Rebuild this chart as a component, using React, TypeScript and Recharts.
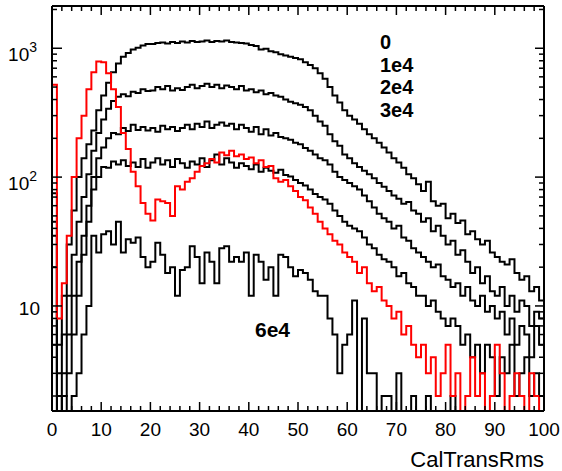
import { LineChart, Line, XAxis, YAxis } from "recharts";

// bin contents, one value per unit bin from 0 to 100 (0 = empty bin)
const run0 = [
  75, 5, 12, 30, 55, 100, 140, 180, 230, 330,
  430, 540, 650, 760, 860, 920, 980, 1010, 1050, 1080,
  1080, 1100, 1110, 1090, 1120, 1100, 1130, 1110, 1140, 1120,
  1130, 1150, 1120, 1140, 1130, 1150, 1120, 1110, 1100, 1090,
  1060, 1040, 980, 990, 950, 930, 900, 880, 860, 840,
  820, 780, 740, 700, 640, 580, 500, 430, 380, 330,
  300, 280, 260, 235, 215, 200, 185, 170, 155, 140,
  130, 118, 105, 98, 88, 78, 92, 65, 60, 62,
  48, 52, 44, 46, 36, 38, 33, 30, 32, 26,
  24, 22, 21, 23, 18, 16, 17, 13, 14, 11,
];
const run1e4 = [
  45, 3, 6, 12, 25, 45, 70, 105, 160, 220,
  280, 340, 390, 420, 440, 425, 460, 450, 480, 465,
  470, 500, 480, 510, 470, 490, 475, 500, 520, 490,
  510, 530, 500, 520, 490, 515, 500, 480, 510, 470,
  480, 455, 470, 440, 450, 430, 420, 400, 385, 375,
  365, 350, 330, 300, 270, 250, 215, 190, 175, 150,
  140, 128, 120, 112, 105, 98, 90, 84, 78, 72,
  68, 62, 64, 55, 52, 45, 48, 38, 42, 35,
  30, 32, 25, 27, 22, 18, 20, 15, 17, 13,
  12, 14, 10, 12, 9, 11, 10, 7, 9, 8,
];
const run2e4 = [
  35, 2, 3, 6, 12, 22, 35, 60, 100, 140,
  170, 200, 220, 215, 240, 228, 255, 232, 245, 230,
  240, 225, 250, 235, 245, 228, 240, 255, 235, 260,
  245, 270, 240, 255, 265, 250, 260, 235, 255, 240,
  225, 245, 215, 235, 210, 220, 205, 200, 195, 185,
  180, 168, 160, 150, 140, 135, 125, 110, 100, 95,
  90, 85, 80, 72, 65, 58, 52, 48, 45, 40,
  42, 34, 32, 28, 26, 24, 22, 20, 21, 17,
  16, 14, 15, 12, 14, 11, 10, 12, 9, 10,
  8, 9, 6, 8, 5, 7, 6, 4, 7, 5,
];
const run3e4 = [
  20, 0, 2, 3, 6, 12, 25, 45, 80, 100,
  120, 118, 132, 125, 135, 122, 130, 120, 138, 118,
  130, 140, 125, 135, 120, 138, 128, 118, 132, 125,
  140, 120, 135, 150, 125, 140, 130, 118, 128, 122,
  115, 125, 110, 118, 112, 108, 114, 104, 101, 95,
  90, 86, 80, 74, 70, 67, 62, 55, 50, 45,
  42, 40, 38, 34, 30, 28, 25, 23, 22, 20,
  17, 18, 15, 14, 12, 12, 10, 11, 9, 8,
  7, 8, 7, 5, 6, 4, 5, 3, 5, 4,
  2, 4, 3, 5, 2, 3, 4, 2, 3, 2,
];
const runRed = [
  520, 8, 15, 35, 100, 200, 300, 480, 650, 790,
  780, 640, 480, 350, 220, 165, 110, 85, 63, 52,
  46, 67, 65, 63, 50, 85, 80, 92, 98, 110,
  122, 128, 138, 130, 155, 148, 160, 145, 150, 138,
  142, 128, 135, 120, 122, 98, 92, 95, 85, 78,
  70, 66, 58, 52, 45, 40, 36, 32, 30, 26,
  24, 22, 18, 20, 15, 13, 14, 11, 10, 8,
  9, 6, 7, 5, 4, 5, 3, 4, 2, 3,
  5, 2, 3, 0, 2, 4, 2, 3, 0, 2,
  5, 3, 0, 2, 3, 2, 0, 3, 2, 0,
];
const run6e4 = [
  5, 0, 2, 0, 2, 3, 6, 10, 35, 26,
  36, 38, 30, 45, 26, 33, 31, 34, 24, 20,
  22, 31, 25, 18, 20, 12, 19, 20, 29, 24,
  15, 26, 22, 15, 28, 29, 22, 24, 22, 26,
  12, 25, 22, 16, 20, 12, 25, 24, 20, 17,
  19, 18, 16, 13, 12, 12, 8, 6, 3, 5,
  6, 11, 0, 8, 3, 3, 0, 2, 2, 0,
  3, 0, 0, 2, 0, 0, 2, 0, 0, 0,
  0, 2, 0, 0, 0, 0, 0, 0, 0, 0,
  0, 0, 0, 0, 0, 0, 0, 0, 0, 0,
];

const xTicks = [0, 2, 4, 6, 8, 10, 12, 14, 16, 18, 20, 22, 24, 26, 28, 30, 32, 34, 36, 38, 40,
  42, 44, 46, 48, 50, 52, 54, 56, 58, 60, 62, 64, 66, 68, 70, 72, 74, 76, 78, 80,
  82, 84, 86, 88, 90, 92, 94, 96, 98, 100];
const yTicks = [2, 3, 4, 5, 6, 7, 8, 9, 10, 20, 30, 40, 50, 60, 70, 80, 90, 100,
  200, 300, 400, 500, 600, 700, 800, 900, 1000, 2000];
const blackLabels = ["0", "1e4", "2e4", "3e4"];

const series = [
  { key: "run0", values: run0, color: "#000000" },
  { key: "run1e4", values: run1e4, color: "#000000" },
  { key: "run2e4", values: run2e4, color: "#000000" },
  { key: "run3e4", values: run3e4, color: "#000000" },
  { key: "run6e4", values: run6e4, color: "#000000" },
  { key: "runRed", values: runRed, color: "#ff0000" },
];

// empty bins go below the frame, like ROOT does
const FLOOR = 1;
const data = Array.from({ length: 101 }, (_, i) => {
  const row: Record<string, number> = { x: i };
  series.forEach((s) => {
    const v = s.values[Math.min(i, s.values.length - 1)];
    row[s.key] = v > 0 ? v : FLOOR;
  });
  return row;
});

const FONT = "'Liberation Sans', Arial, Helvetica, sans-serif";
const isMajorY = (v: number) => Math.abs(Math.log10(v) - Math.round(Math.log10(v))) < 1e-9;

function BottomTick(props: any) {
  const { x, y, payload } = props;
  const major = payload.value % 10 === 0;
  return (
    <g>
      <line x1={x} y1={y} x2={x} y2={y - (major ? 9 : 5)} stroke="#000" strokeWidth={1.5} />
      {major && (
        <text x={x} y={y + 25} textAnchor="middle" fontSize={19} fontFamily={FONT} fill="#000">
          {payload.value}
        </text>
      )}
    </g>
  );
}

function TopTick(props: any) {
  const { x, y, payload } = props;
  const major = payload.value % 10 === 0;
  return <line x1={x} y1={y} x2={x} y2={y + (major ? 9 : 5)} stroke="#000" strokeWidth={1.5} />;
}

function LeftTick(props: any) {
  const { x, y, payload } = props;
  const v = payload.value as number;
  const major = isMajorY(v);
  const exp = Math.round(Math.log10(v));
  return (
    <g>
      <line x1={x} y1={y} x2={x + (major ? 10 : 5)} y2={y} stroke="#000" strokeWidth={1.5} />
      {major && exp === 1 && (
        <text x={x - 12} y={y + 9} textAnchor="end" fontSize={19} fontFamily={FONT} fill="#000">
          10
        </text>
      )}
      {major && exp > 1 && (
        <text x={x - 15} y={y + 13} textAnchor="end" fontSize={19} fontFamily={FONT} fill="#000">
          10
          <tspan fontSize={14} dy={-9}>
            {exp}
          </tspan>
        </text>
      )}
    </g>
  );
}

function RightTick(props: any) {
  const { x, y, payload } = props;
  const major = isMajorY(payload.value);
  return <line x1={x} y1={y} x2={x - (major ? 9 : 5)} y2={y} stroke="#000" strokeWidth={1.5} />;
}

export default function App() {
  const frame = { stroke: "#000", strokeWidth: 2 };
  return (
    <div style={{ position: "absolute", left: 0, top: 0, width: 562, height: 471, background: "#fff" }}>
      <LineChart width={562} height={471} data={data} margin={{ top: 0, right: 0, bottom: 0, left: 0 }}>
        <XAxis
          xAxisId="b"
          dataKey="x"
          type="number"
          domain={[0, 100]}
          ticks={xTicks}
          interval={0}
          height={60}
          tickSize={0}
          tickMargin={0}
          axisLine={frame}
          tick={<BottomTick />}
        />
        <XAxis
          xAxisId="t"
          orientation="top"
          dataKey="x"
          type="number"
          domain={[0, 100]}
          ticks={xTicks}
          interval={0}
          height={6}
          tickSize={0}
          tickMargin={0}
          axisLine={frame}
          tick={<TopTick />}
        />
        <YAxis
          yAxisId="l"
          scale="log"
          type="number"
          domain={[1.53, 2128]}
          allowDataOverflow
          ticks={yTicks}
          interval={0}
          width={52}
          tickSize={0}
          tickMargin={0}
          axisLine={frame}
          tick={<LeftTick />}
        />
        <YAxis
          yAxisId="r"
          orientation="right"
          scale="log"
          type="number"
          domain={[1.53, 2128]}
          allowDataOverflow
          ticks={yTicks}
          interval={0}
          width={18}
          tickSize={0}
          tickMargin={0}
          axisLine={frame}
          tick={<RightTick />}
        />
        {series.map((s) => (
          <Line
            key={s.key}
            xAxisId="b"
            yAxisId="l"
            dataKey={s.key}
            type="stepAfter"
            stroke={s.color}
            strokeWidth={2}
            dot={false}
            activeDot={false}
            isAnimationActive={false}
          />
        ))}
      </LineChart>
      <svg
        width={562}
        height={471}
        style={{ position: "absolute", left: 0, top: 0, pointerEvents: "none" }}
      >
        {blackLabels.map((label, i) => (
          <text key={label} x={380} y={49 + i * 22.5} fontSize={20} fontWeight="bold" fontFamily={FONT} fill="#000">
            {label}
          </text>
        ))}
        <text x={255} y={337} fontSize={21} fontWeight="bold" fontFamily={FONT} fill="#000">
          6e4
        </text>
        <text x={544} y={467} textAnchor="end" fontSize={22} fontFamily={FONT} fill="#000">
          CalTransRms
        </text>
      </svg>
    </div>
  );
}
